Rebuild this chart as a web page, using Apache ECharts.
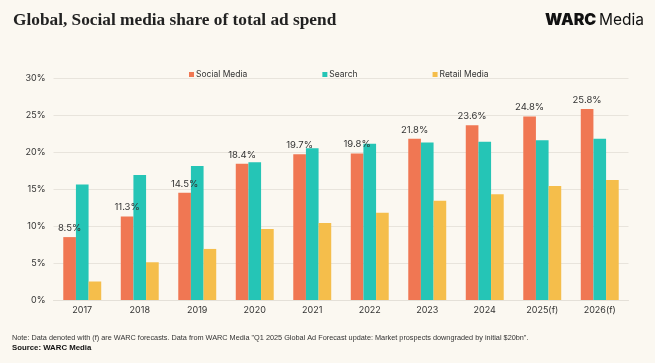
<!DOCTYPE html>
<html><head><meta charset="utf-8">
<script src="https://cdn.jsdelivr.net/npm/echarts@6/dist/echarts.min.js"></script>
<style>
html,body{margin:0;padding:0;background:#FBF8F1;}
#c{width:655px;height:363px;}
</style></head>
<body><div id="c"></div>
<script>
const categories = ['2017','2018','2019','2020','2021','2022','2023','2024','2025(f)','2026(f)'];
const socialMedia = [8.5,11.3,14.5,18.4,19.7,19.8,21.8,23.6,24.8,25.8];
const search = [15.6,16.9,18.1,18.6,20.5,21.1,21.3,21.4,21.6,21.8];
const retailMedia = [2.5,5.1,6.9,9.6,10.4,11.8,13.4,14.3,15.4,16.2];
const yTicks = [0,5,10,15,20,25,30];

const chart = echarts.init(document.getElementById('c'));
chart.setOption({
  backgroundColor: '#FBF8F1',
  animation: false,
  textStyle: {fontFamily: 'Inter, Roboto, sans-serif'},
  graphic: [
    {type:'text', left: 13, top: 12, style:{text:'Global, Social media share of total ad spend', font:'bold 17.3px "Liberation Serif", serif', fill:'#222'}},
    {type:'text', left: 545, top: 12, style:{text:'WARC', font:'900 16px Inter, Roboto, sans-serif', fill:'#111'}},
    {type:'text', left: 599, top: 12, style:{text:'Media', font:'15.5px Inter, Roboto, sans-serif', fill:'#111'}},
    {type:'text', left: 12, top: 334, style:{text:'Note: Data denoted with (f) are WARC forecasts. Data from WARC Media "Q1 2025 Global Ad Forecast update: Market prospects downgraded by initial $20bn".', font:'7.3px "Liberation Sans", sans-serif', fill:'#333'}},
    {type:'text', left: 12, top: 344, style:{text:'Source: WARC Media', font:'bold 7.8px "Liberation Sans", sans-serif', fill:'#111'}}
  ],
  legend: {
    top: 65, left: 184,
    itemWidth: 5, itemHeight: 5, itemGap: 75,
    icon: 'rect',
    textStyle: {fontSize: 8.5, color: '#333', padding:[0,0,0,-3]},
    data: ['Social Media','Search','Retail Media']
  },
  grid: {left: 53.5, right: 26.5, top: 78, bottom: 63, containLabel: false},
  xAxis: {
    type: 'category', data: categories,
    axisLine: {show: true, lineStyle: {color: '#e4e0d8'}},
    axisTick: {show: false},
    axisLabel: {fontSize: 9, color: '#333', margin: 6}
  },
  yAxis: {
    type: 'value', min: 0, max: 30, interval: 5,
    axisLabel: {formatter: v => yTicks.includes(v) ? v + '%' : '', fontSize: 9, color: '#333', margin: 8},
    splitLine: {lineStyle: {color: '#e8e4dc'}},
    axisLine: {show: false}, axisTick: {show: false}
  },
  series: [
    {name:'Social Media', type:'bar', data: socialMedia, itemStyle:{color:'#F07753'}, barGap: '0%', barCategoryGap: '34%',
     label:{show:true, position:'top', formatter: p => p.value.toFixed(1) + '%', fontSize: 9.5, color:'#333', distance: 4}},
    {name:'Search', type:'bar', data: search, itemStyle:{color:'#25C5B6'}, barGap:'0%', barCategoryGap:'34%'},
    {name:'Retail Media', type:'bar', data: retailMedia, itemStyle:{color:'#F5BE4B'}, barGap:'0%', barCategoryGap:'34%'}
  ]
});
</script></body></html>
